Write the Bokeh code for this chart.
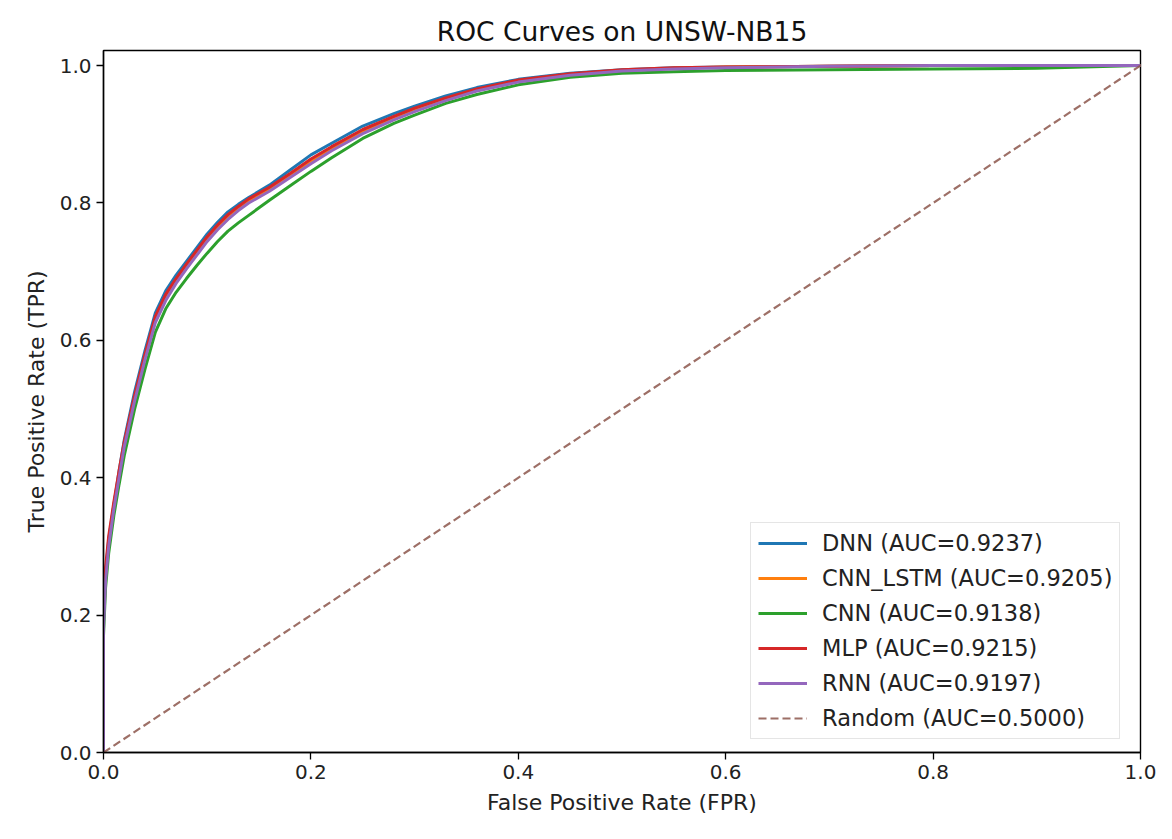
from bokeh.plotting import figure
from bokeh.models import FixedTicker, NumeralTickFormatter, Range1d, Legend, LegendItem
from bokeh.embed import file_html
from bokeh.resources import INLINE

# ROC curves read on a shared false-positive-rate grid
fpr = [0.0, 0.0, 0.002, 0.005, 0.01, 0.015, 0.02, 0.03, 0.04, 0.05, 0.06, 0.07,
       0.08, 0.09, 0.10, 0.11, 0.12, 0.13, 0.14, 0.16, 0.18, 0.20, 0.22, 0.25,
       0.28, 0.30, 0.33, 0.36, 0.40, 0.45, 0.50, 0.55, 0.60, 0.70, 0.80, 0.90, 1.0]

tpr_dnn = [0.0, 0.20, 0.26, 0.31, 0.36, 0.41, 0.455, 0.525, 0.585, 0.64, 0.672, 0.695,
           0.715, 0.735, 0.755, 0.772, 0.787, 0.798, 0.808, 0.826, 0.848, 0.870, 0.887, 0.912,
           0.930, 0.941, 0.956, 0.968, 0.980, 0.989, 0.994, 0.997, 0.998, 0.999, 1.0, 1.0, 1.0]
tpr_cnn_lstm = [0.0, 0.19, 0.255, 0.305, 0.36, 0.405, 0.448, 0.516, 0.576, 0.630, 0.662, 0.686,
                0.706, 0.726, 0.746, 0.764, 0.780, 0.792, 0.803, 0.820, 0.840, 0.860, 0.879, 0.904,
                0.923, 0.935, 0.951, 0.964, 0.977, 0.987, 0.993, 0.996, 0.998, 0.999, 1.0, 1.0, 1.0]
tpr_cnn = [0.0, 0.17, 0.24, 0.29, 0.345, 0.39, 0.432, 0.50, 0.558, 0.612, 0.646, 0.670,
           0.690, 0.709, 0.727, 0.744, 0.759, 0.771, 0.782, 0.804, 0.825, 0.846, 0.866, 0.894,
           0.916, 0.928, 0.945, 0.958, 0.972, 0.983, 0.989, 0.991, 0.993, 0.994, 0.995, 0.996, 1.0]
tpr_mlp = [0.0, 0.22, 0.27, 0.315, 0.365, 0.41, 0.452, 0.52, 0.58, 0.635, 0.667, 0.69,
           0.711, 0.731, 0.751, 0.768, 0.783, 0.795, 0.806, 0.823, 0.843, 0.864, 0.882, 0.907,
           0.926, 0.938, 0.953, 0.966, 0.979, 0.988, 0.994, 0.997, 0.998, 0.999, 1.0, 1.0, 1.0]
tpr_rnn = [0.0, 0.18, 0.25, 0.30, 0.355, 0.40, 0.445, 0.512, 0.572, 0.626, 0.658, 0.683,
           0.704, 0.724, 0.744, 0.761, 0.776, 0.789, 0.800, 0.817, 0.837, 0.857, 0.876, 0.901,
           0.921, 0.933, 0.949, 0.963, 0.976, 0.986, 0.992, 0.995, 0.997, 0.999, 1.0, 1.0, 1.0]

models = ["DNN", "CNN_LSTM", "CNN", "MLP", "RNN"]
aucs = [0.9237, 0.9205, 0.9138, 0.9215, 0.9197]
curves = [tpr_dnn, tpr_cnn_lstm, tpr_cnn, tpr_mlp, tpr_rnn]
colors = ["#1f77b4", "#ff7f0e", "#2ca02c", "#d62728", "#9467bd"]

chance_x = [0.0, 1.0]
chance_y = [0.0, 1.0]
chance_auc = 0.5

ticks = [0.0, 0.2, 0.4, 0.6, 0.8, 1.0]
FONT = "DejaVu Sans"

p = figure(width=1172, height=839, output_backend="svg", toolbar_location=None,
           x_range=Range1d(0, 1), y_range=Range1d(0, 1.022),
           min_border_left=103, min_border_right=32, min_border_top=50,
           min_border_bottom=87)

p.title.text = "ROC Curves on UNSW-NB15"
p.title.align = "center"
p.title.text_font = FONT
p.title.text_font_size = "26.5px"
p.title.text_font_style = "normal"
p.title.text_color = "#111111"
p.title.standoff = 8

p.xgrid.visible = False
p.ygrid.visible = False
p.outline_line_color = "black"
p.outline_line_width = 1.4

for ax in (p.xaxis[0], p.yaxis[0]):
    ax.ticker = FixedTicker(ticks=ticks)
    ax.formatter = NumeralTickFormatter(format="0.0")
    ax.minor_tick_line_color = None
    ax.major_tick_in = 0
    ax.major_tick_out = 7
    ax.major_tick_line_color = "black"
    ax.major_tick_line_width = 1.3
    ax.axis_line_color = "black"
    ax.axis_line_width = 1.4
    ax.major_label_text_font = FONT
    ax.major_label_text_font_size = "20px"
    ax.major_label_text_color = "#222222"
    ax.axis_label_text_font = FONT
    ax.axis_label_text_font_size = "22px"
    ax.axis_label_text_font_style = "normal"
    ax.axis_label_text_color = "#222222"
    ax.major_label_standoff = 5

p.xaxis.axis_label = "False Positive Rate (FPR)"
p.yaxis.axis_label = "True Positive Rate (TPR)"
p.xaxis.axis_label_standoff = 8
p.yaxis.axis_label_standoff = 8

items = []
for name, auc, tpr, col in zip(models, aucs, curves, colors):
    r = p.line(fpr, tpr, line_color=col, line_width=3)
    items.append(LegendItem(label=f"{name} (AUC={auc:.4f})", renderers=[r]))

rr = p.line(chance_x, chance_y, line_color="#8c564b", line_width=2.2,
            line_dash="8 4", line_alpha=0.85)
items.append(LegendItem(label=f"Random (AUC={chance_auc:.4f})", renderers=[rr]))

legend = Legend(items=items, location=(647, 13))
legend.label_text_font = FONT
legend.label_text_font_size = "22.5px"
legend.label_text_color = "#222222"
legend.glyph_width = 49
legend.glyph_height = 26
legend.label_height = 26
legend.label_standoff = 15
legend.spacing = 9
legend.padding = 7
legend.margin = 0
legend.border_line_color = "#cccccc"
legend.border_line_width = 1.2
legend.background_fill_alpha = 0.85
p.add_layout(legend, "center")

open("out.html", "w").write(file_html(p, INLINE))
